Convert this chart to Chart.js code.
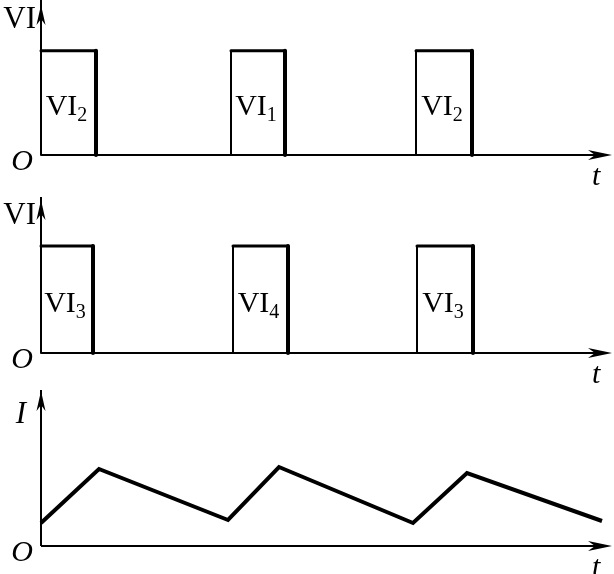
<!DOCTYPE html>
<html>
<head>
<meta charset="utf-8">
<script src="https://cdn.jsdelivr.net/npm/chart.js@4"></script>
<style>
  body { margin: 0; background: #fff; }
  #wrap { position: relative; width: 614px; height: 574px; overflow: hidden; }
  canvas { position: absolute; left: 0; }
</style>
</head>
<body>
<div id="wrap">
  <canvas id="c1" width="614" height="190" style="top:0"></canvas>
  <canvas id="c2" width="614" height="195" style="top:190px"></canvas>
  <canvas id="c3" width="614" height="189" style="top:385px"></canvas>
</div>
<script>
  // time axis in arbitrary units (0 .. tMax)
  const tMax = 57.1;
  const pulseLevel = 1;

  // top panel: VI pulses
  const topStarts = [0, 19.0, 37.5];
  const topEnds = [5.5, 24.4, 43.1];
  const topSubs = ['2', '1', '2'];

  // middle panel
  const midStarts = [0, 19.2, 37.6];
  const midEnds = [5.2, 24.7, 43.2];
  const midSubs = ['3', '4', '3'];

  // bottom panel: current I
  const currentT = [0, 5.8, 18.7, 23.8, 37.2, 42.6, 56.1];
  const currentI = [0.23, 0.77, 0.26, 0.79, 0.23, 0.73, 0.25];

  const axisTitles = ['VI', 'VI', 'I'];
  const originText = 'O';
  const timeText = 't';

  const serif = '"Liberation Serif", "DejaVu Serif", serif';

  function pulsePoints(starts, ends) {
    const pts = [];
    starts.forEach((s, i) => {
      pts.push({x: s, y: 0}, {x: s, y: pulseLevel}, {x: ends[i], y: pulseLevel}, {x: ends[i], y: 0});
      pts.push({x: ends[i], y: null});
    });
    return pts;
  }

  const axesPlugin = {
    id: 'axes',
    beforeDatasetsDraw(chart, args, opts) {
      const ctx = chart.ctx;
      const a = chart.chartArea;
      const x0 = a.left, y0 = a.bottom;
      ctx.save();
      ctx.strokeStyle = '#000';
      ctx.fillStyle = '#000';
      ctx.lineWidth = 2;
      // y axis
      ctx.beginPath();
      ctx.moveTo(x0, y0);
      ctx.lineTo(x0, opts.yTop);
      ctx.stroke();
      ctx.beginPath();
      ctx.moveTo(x0, opts.yTip);
      ctx.lineTo(x0 + 4.5, opts.yTip + 20);
      ctx.lineTo(x0, opts.yTip + 14);
      ctx.lineTo(x0 - 4.5, opts.yTip + 20);
      ctx.closePath();
      ctx.fill();
      // x axis
      ctx.beginPath();
      ctx.moveTo(x0, y0);
      ctx.lineTo(a.right - 6, y0);
      ctx.stroke();
      ctx.beginPath();
      ctx.moveTo(a.right, y0);
      ctx.lineTo(a.right - 24, y0 - 5);
      ctx.lineTo(a.right - 17, y0);
      ctx.lineTo(a.right - 24, y0 + 5);
      ctx.closePath();
      ctx.fill();
      ctx.restore();
    },
    afterDraw(chart, args, opts) {
      const ctx = chart.ctx;
      const a = chart.chartArea;
      const xs = chart.scales.x, ys = chart.scales.y;
      ctx.save();
      ctx.fillStyle = '#000';
      ctx.textBaseline = 'alphabetic';
      // axis title
      ctx.font = (opts.titleItalic ? 'italic ' : '') + '31px ' + serif;
      ctx.textAlign = 'right';
      ctx.fillText(opts.title, a.left - opts.titleGap, a.top + opts.titleDy);
      // origin
      ctx.font = 'italic 30px ' + serif;
      ctx.fillText(originText, a.left - 8, a.bottom + 15);
      // t
      ctx.textAlign = 'left';
      ctx.fillText(timeText, a.right - 20, a.bottom + 30);
      // pulse labels
      if (opts.starts) {
        const yMid = (ys.getPixelForValue(0) + ys.getPixelForValue(pulseLevel)) / 2;
        opts.starts.forEach((s, i) => {
          const cx = (xs.getPixelForValue(s) + xs.getPixelForValue(opts.ends[i])) / 2;
          ctx.font = '30px ' + serif;
          const w1 = ctx.measureText('VI').width;
          ctx.font = '20px ' + serif;
          const w2 = ctx.measureText(opts.subs[i]).width;
          const left = cx - (w1 + w2) / 2 - 2;
          ctx.font = '30px ' + serif;
          ctx.textAlign = 'left';
          ctx.fillText('VI', left, yMid + 12);
          ctx.font = '20px ' + serif;
          ctx.fillText(opts.subs[i], left + w1, yMid + 18);
        });
      }
      ctx.restore();
    }
  };

  function edgeWidth(c) {
    const p = c.p0.parsed, q = c.p1.parsed;
    if (p.x === q.x) return q.y > p.y ? 2 : 4;
    return 3;
  }

  function makeChart(id, data, yMax, pad, extra, dsOpts) {
    return new Chart(document.getElementById(id), {
      type: 'line',
      data: {
        datasets: [Object.assign({
          data: data,
          borderColor: '#000',
          pointRadius: 0,
          tension: 0,
          spanGaps: false,
          clip: false
        }, dsOpts)]
      },
      options: {
        responsive: false,
        animation: false,
        events: [],
        layout: { padding: { left: 41, right: 2, top: pad.top, bottom: pad.bottom } },
        scales: {
          x: { type: 'linear', display: false, min: 0, max: tMax },
          y: { type: 'linear', display: false, min: 0, max: yMax }
        },
        plugins: {
          legend: { display: false },
          tooltip: { enabled: false },
          axes: extra
        }
      },
      plugins: [axesPlugin]
    });
  }

  const pulseStyle = {
    borderWidth: 3,
    borderCapStyle: 'round',
    borderJoinStyle: 'miter',
    segment: { borderWidth: edgeWidth }
  };

  makeChart('c1', pulsePoints(topStarts, topEnds), 1.45, {top: 4, bottom: 35},
    {title: axisTitles[0], titleGap: 5, titleDy: 24, yTop: 0, yTip: 5,
     starts: topStarts, ends: topEnds, subs: topSubs}, pulseStyle);

  makeChart('c2', pulsePoints(midStarts, midEnds), 1.45, {top: 8, bottom: 32},
    {title: axisTitles[1], titleGap: 5, titleDy: 26, yTop: 7, yTip: 10,
     starts: midStarts, ends: midEnds, subs: midSubs}, pulseStyle);

  makeChart('c3', currentT.map((t, i) => ({x: t, y: currentI[i]})), 1.55, {top: 6, bottom: 28},
    {title: axisTitles[2], titleItalic: true, titleGap: 15, titleDy: 32, yTop: 5, yTip: 6},
    {borderWidth: 4, borderJoinStyle: 'miter', borderCapStyle: 'butt'});
</script>
</body>
</html>
